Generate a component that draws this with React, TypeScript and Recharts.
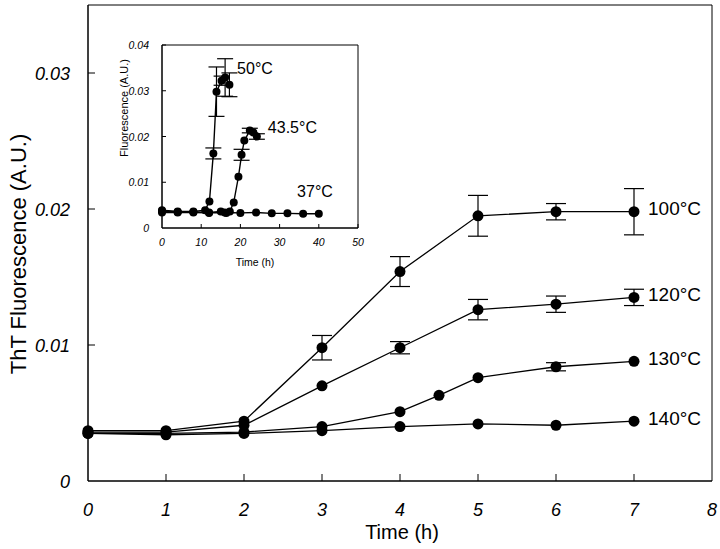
import { LineChart, Line, XAxis, YAxis, ErrorBar, ReferenceArea } from "recharts";

// main chart: ThT fluorescence vs time at high temperatures
const mainTicksX = [0, 1, 2, 3, 4, 5, 6, 7, 8];
const mainTicksY = [0, 0.01, 0.02, 0.03];

const time100 = [0, 1, 2, 3, 4, 5, 6, 7];
const value100 = [0.0037, 0.0037, 0.0044, 0.0098, 0.0154, 0.0195, 0.0198, 0.0198];
const err100 = [0, 0, 0, 0.0009, 0.0011, 0.0015, 0.0006, 0.0017];

const time120 = [0, 1, 2, 3, 4, 5, 6, 7];
const value120 = [0.0036, 0.0036, 0.0041, 0.007, 0.0098, 0.0126, 0.013, 0.0135];
const err120 = [0, 0, 0, 0, 0.00045, 0.00075, 0.0006, 0.0006];

const time130 = [0, 1, 2, 3, 4, 4.5, 5, 6, 7];
const value130 = [0.0035, 0.0035, 0.0036, 0.004, 0.0051, 0.0063, 0.0076, 0.0084, 0.0088];
const err130 = [0, 0, 0, 0, 0, 0, 0, 0.0003, 0];

const time140 = [0, 1, 2, 3, 4, 5, 6, 7];
const value140 = [0.0035, 0.0034, 0.0035, 0.0037, 0.004, 0.0042, 0.0041, 0.0044];
const err140 = [0, 0, 0, 0, 0, 0, 0, 0];

// inset: lower temperatures, longer time
const insetTicksX = [0, 10, 20, 30, 40, 50];
const insetTicksY = [0, 0.01, 0.02, 0.03, 0.04];

const time50 = [0, 4, 8, 11, 12.1, 13.1, 13.9, 15.2, 16.1, 17.2];
const value50 = [0.0039, 0.0036, 0.0036, 0.0039, 0.0058, 0.0163, 0.0298, 0.0322, 0.0329, 0.0313];
const err50 = [0, 0, 0, 0, 0, 0.0012, 0.0054, 0.001, 0.0041, 0.0026];

const time435 = [0, 4, 8, 12, 15, 16.4, 17.3, 18.3, 19.5, 20.3, 21, 22.4, 23.3, 24.2];
const value435 = [0.0037, 0.0035, 0.0035, 0.0034, 0.0036, 0.0033, 0.0036, 0.0056, 0.0112, 0.016, 0.0191, 0.0213, 0.0209, 0.02];
const err435 = [0, 0, 0, 0, 0, 0, 0, 0, 0, 0.0012, 0, 0.0005, 0, 0.0006];

const time37 = [0, 4, 8, 12, 16, 20, 24, 28, 32, 36, 40];
const value37 = [0.0034, 0.0034, 0.0034, 0.0033, 0.0034, 0.0033, 0.0034, 0.0032, 0.0032, 0.0031, 0.0031];
const err37 = [0, 0, 0, 0, 0, 0, 0, 0, 0, 0, 0];

const toRows = (t: number[], v: number[], e: number[]) =>
  t.map((x, i) => ({ t: x, v: v[i], e: e[i] }));

const font = "'Liberation Sans', Arial, sans-serif";
const fmtY = (v: number) => (v === 0 ? "0" : v.toFixed(2));

const MainXTick = ({ x, y, payload }: any) => (
  <g>
    {payload.value > 0 && payload.value < 8 && (
      <line x1={x} x2={x} y1={y} y2={y - 7} stroke="#000" />
    )}
    <text x={x} y={y + 35} textAnchor="middle" fontStyle="italic" fontSize={18} fontFamily={font} fill="#000">
      {payload.value}
    </text>
  </g>
);

const MainYTick = ({ x, y, payload }: any) => (
  <g>
    {payload.value > 0 && <line x1={x} x2={x + 7} y1={y} y2={y} stroke="#000" />}
    <text x={x - 18} y={y + 7} textAnchor="end" fontStyle="italic" fontSize={18} fontFamily={font} fill="#000">
      {fmtY(payload.value)}
    </text>
  </g>
);

const InsetXTick = ({ x, y, payload }: any) => (
  <g>
    {payload.value > 0 && <line x1={x} x2={x} y1={y} y2={y - 4} stroke="#000" />}
    <text x={x} y={y + 18} textAnchor="middle" fontStyle="italic" fontSize={10.5} fontFamily={font} fill="#000">
      {payload.value}
    </text>
  </g>
);

const InsetYTick = ({ x, y, payload }: any) => (
  <g>
    {payload.value > 0 && <line x1={x} x2={x + 4} y1={y} y2={y} stroke="#000" />}
    <text x={x - 13} y={y + 4} textAnchor="end" fontStyle="italic" fontSize={10.5} fontFamily={font} fill="#000">
      {fmtY(payload.value)}
    </text>
  </g>
);

const seriesLabel = (text: string, at: number, dx: number, dy: number, size: number) => (p: any) =>
  p.index === at ? (
    <text x={p.x + dx} y={p.y + dy} fontSize={size} fontFamily={font} fill="#000" dominantBaseline="central">
      {text}
    </text>
  ) : (
    <g />
  );

const mainSeries = [
  { name: "100°C", rows: toRows(time100, value100, err100) },
  { name: "120°C", rows: toRows(time120, value120, err120) },
  { name: "130°C", rows: toRows(time130, value130, err130) },
  { name: "140°C", rows: toRows(time140, value140, err140) },
];

const insetSeries = [
  { name: "50°C", rows: toRows(time50, value50, err50), at: 8, dx: 12, dy: -9 },
  { name: "43.5°C", rows: toRows(time435, value435, err435), at: 13, dx: 11, dy: -9 },
  { name: "37°C", rows: toRows(time37, value37, err37), at: 9, dx: -6, dy: -22 },
];

export default function App() {
  return (
    <div style={{ position: "absolute", left: 0, top: 0, width: 720, height: 549, background: "#fff" }}>
      <LineChart width={720} height={549} margin={{ top: 5, right: 8, left: 0, bottom: 0 }}>
        <XAxis
          type="number"
          dataKey="t"
          domain={[0, 8]}
          ticks={mainTicksX}
          tick={<MainXTick />}
          tickLine={false}
          tickSize={0}
          tickMargin={0}
          height={68}
          stroke="#000"
          label={{
            content: () => (
              <text x={402} y={539} textAnchor="middle" fontSize={20} fontFamily={font} fill="#000">
                Time (h)
              </text>
            ),
          }}
        />
        <YAxis
          type="number"
          domain={[0, 0.035]}
          ticks={mainTicksY}
          tick={<MainYTick />}
          tickLine={false}
          tickSize={0}
          tickMargin={0}
          width={88}
          stroke="#000"
          label={{
            content: () => (
              <text transform="translate(26,254) rotate(-90)" textAnchor="middle" fontSize={22} fontFamily={font} fill="#000">
                ThT Fluorescence (A.U.)
              </text>
            ),
          }}
        />
        <ReferenceArea x1={0} x2={8} y1={0} y2={0.035} fill="none" stroke="#000" strokeWidth={1} />
        {mainSeries.map((s) => (
          <Line
            key={s.name}
            data={s.rows}
            dataKey="v"
            type="linear"
            stroke="#000"
            strokeWidth={1.3}
            dot={{ r: 5.5, fill: "#000", stroke: "#000", strokeWidth: 0 }}
            activeDot={false}
            isAnimationActive={false}
            label={seriesLabel(s.name, s.rows.length - 1, 14, -3, 19)}
          >
            <ErrorBar dataKey="e" width={10} stroke="#000" strokeWidth={1.2} direction="y" />
          </Line>
        ))}
      </LineChart>

      <div style={{ position: "absolute", left: 100, top: 35, width: 270, height: 240 }}>
        <LineChart width={270} height={240} margin={{ top: 10, right: 12, left: 0, bottom: 0 }}>
          <XAxis
            type="number"
            dataKey="t"
            domain={[0, 50]}
            ticks={insetTicksX}
            tick={<InsetXTick />}
            tickLine={false}
            tickSize={0}
            tickMargin={0}
            height={47}
            stroke="#000"
            label={{
              content: () => (
                <text x={155} y={231} textAnchor="middle" fontSize={10.5} fontFamily={font} fill="#000">
                  Time (h)
                </text>
              ),
            }}
          />
          <YAxis
            type="number"
            domain={[0, 0.04]}
            ticks={insetTicksY}
            tick={<InsetYTick />}
            tickLine={false}
            tickSize={0}
            tickMargin={0}
            width={62}
            stroke="#000"
            label={{
              content: () => (
                <text transform="translate(28,73) rotate(-90)" textAnchor="middle" fontSize={11} fontFamily={font} fill="#000">
                  Fluorescence (A.U.)
                </text>
              ),
            }}
          />
          <ReferenceArea x1={0} x2={50} y1={0} y2={0.04} fill="#fff" fillOpacity={1} stroke="#000" strokeWidth={1} />
          {insetSeries.map((s) => (
            <Line
              key={s.name}
              data={s.rows}
              dataKey="v"
              type="linear"
              stroke="#000"
              strokeWidth={1.4}
              dot={{ r: 4, fill: "#000", stroke: "#000", strokeWidth: 0 }}
              activeDot={false}
              isAnimationActive={false}
              label={seriesLabel(s.name, s.at, s.dx, s.dy, 16)}
            >
              <ErrorBar dataKey="e" width={8} stroke="#000" strokeWidth={1.2} direction="y" />
            </Line>
          ))}
        </LineChart>
      </div>
    </div>
  );
}
